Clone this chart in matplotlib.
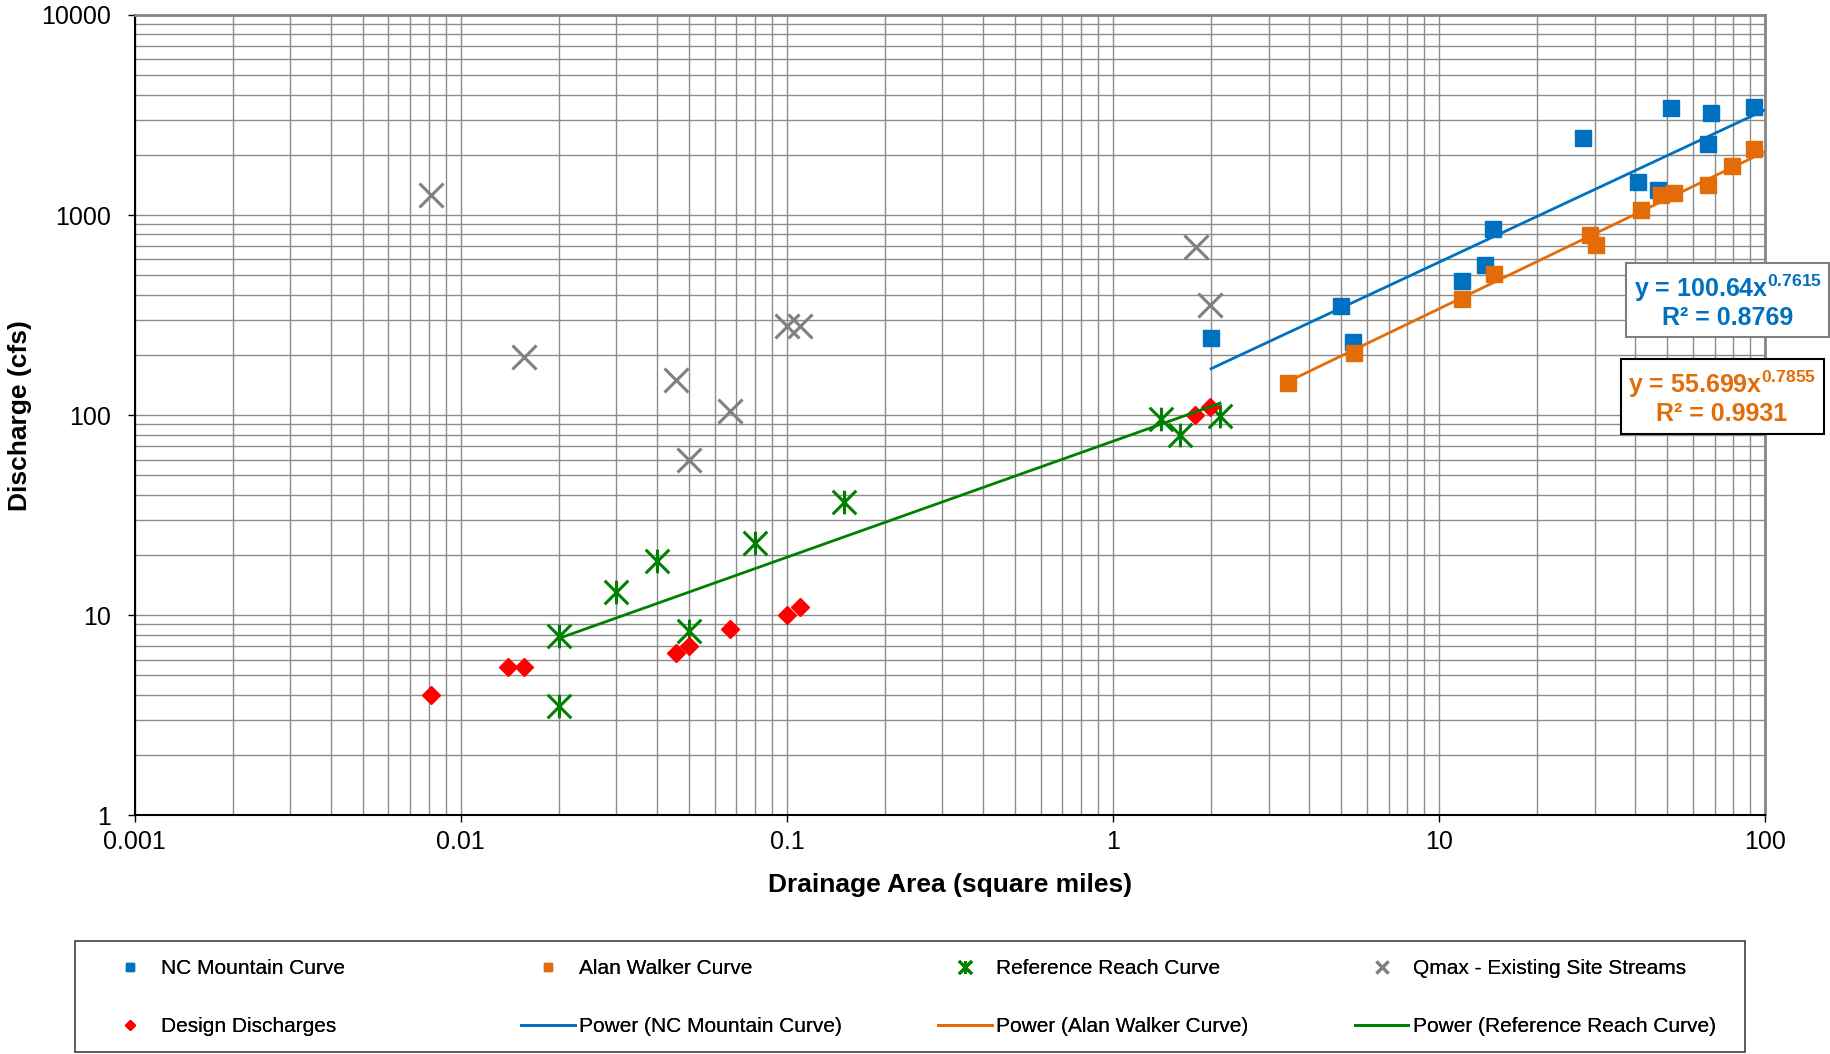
import numpy as np
import matplotlib
matplotlib.use("Agg")
import matplotlib.pyplot as plt
from matplotlib.path import Path
from matplotlib.patches import Rectangle
from matplotlib.ticker import LogLocator, NullFormatter

plt.rcParams['font.family'] = ['Liberation Sans', 'DejaVu Sans']
plt.rcParams['mathtext.fontset'] = 'custom'
plt.rcParams['mathtext.rm'] = 'Liberation Sans'
plt.rcParams['mathtext.bf'] = 'Liberation Sans:bold'

# --- data (drainage area in sq mi, discharge in cfs) ---
nc_area = [2.0, 5.0, 5.46, 11.8, 13.8, 14.6, 27.6, 40.7, 47.1, 51.4, 66.7, 68.2, 92.3]
nc_q = [242, 351, 233, 470, 560, 855, 2434, 1460, 1330, 3436, 2255, 3222, 3476]

aw_area = [3.45, 5.5, 11.8, 14.7, 29.0, 30.3, 41.5, 48.0, 52.5, 66.7, 79.0, 92.3]
aw_q = [145, 204, 381, 509, 796, 712, 1055, 1262, 1290, 1413, 1763, 2130]

rr_area = [0.02, 0.02, 0.03, 0.04, 0.05, 0.08, 0.15, 1.40, 1.60, 2.13]
rr_q = [7.9, 3.5, 13.0, 18.7, 8.3, 22.9, 37.0, 96.0, 80.0, 99.0]

qm_area = [0.0081, 0.0156, 0.0456, 0.05, 0.067, 0.10, 0.11, 1.80, 1.99]
qm_q = [1260, 195, 150, 60, 105, 280, 280, 695, 355]

dd_area = [0.0081, 0.014, 0.0156, 0.0456, 0.05, 0.067, 0.10, 0.11, 1.79, 1.98]
dd_q = [4.0, 5.5, 5.5, 6.45, 7.0, 8.5, 10.0, 11.0, 100, 110]

# power trendline coefficients shown on the chart
nc_coef = (100.64, 0.7615)
aw_coef = (55.699, 0.7855)
nc_r2 = 0.8769
aw_r2 = 0.9931

x_ticks = [0.001, 0.01, 0.1, 1, 10, 100]
x_labels = ['0.001', '0.01', '0.1', '1', '10', '100']
y_ticks = [1, 10, 100, 1000, 10000]
y_labels = ['1', '10', '100', '1000', '10000']

BLUE = '#0070C0'
ORANGE = '#E36C09'
GREEN = '#008000'
RED = '#FF0000'
GRAY = '#808080'

# Excel style "star" marker: an X with a vertical bar through it
star = Path([(-1, -1), (1, 1), (-1, 1), (1, -1), (0, -1), (0, 1)],
            [Path.MOVETO, Path.LINETO, Path.MOVETO, Path.LINETO, Path.MOVETO, Path.LINETO])

fig = plt.figure(figsize=(18.31, 10.54), dpi=100)
ax = fig.add_axes([0.0736, 0.2265, 0.8904, 0.7593])
ax.set_xscale('log')
ax.set_yscale('log')

h_nc, = ax.plot(nc_area, nc_q, ls='none', marker='s', ms=11.5, color=BLUE, mec=BLUE,
                label='NC Mountain Curve', zorder=3)
h_aw, = ax.plot(aw_area, aw_q, ls='none', marker='s', ms=11.5, color=ORANGE, mec=ORANGE,
                label='Alan Walker Curve', zorder=3)
h_rr, = ax.plot(rr_area, rr_q, ls='none', marker=star, ms=17, mew=2.2, color=GREEN,
                mfc='none', label='Reference Reach Curve', zorder=3)
h_qm, = ax.plot(qm_area, qm_q, ls='none', marker='x', ms=17, mew=2.2, color=GRAY,
                label='Qmax - Existing Site Streams', zorder=3)
h_dd, = ax.plot(dd_area, dd_q, ls='none', marker='D', ms=9, color=RED, mec=RED,
                label='Design Discharges', zorder=3)

# trendlines
xs = np.logspace(np.log10(min(nc_area)), 2, 50)
h_tnc, = ax.plot(xs, nc_coef[0] * xs ** nc_coef[1], color=BLUE, lw=2,
                 label='Power (NC Mountain Curve)', zorder=4)
xs = np.logspace(np.log10(min(aw_area)), 2, 50)
h_taw, = ax.plot(xs, aw_coef[0] * xs ** aw_coef[1], color=ORANGE, lw=2,
                 label='Power (Alan Walker Curve)', zorder=4)
b, a = np.polyfit(np.log10(rr_area), np.log10(rr_q), 1)
xs = np.logspace(np.log10(min(rr_area)), np.log10(max(rr_area)), 50)
h_trr, = ax.plot(xs, 10 ** a * xs ** b, color=GREEN, lw=2,
                 label='Power (Reference Reach Curve)', zorder=4)

ax.set_xlim(0.001, 100)
ax.set_ylim(1, 10000)
ax.set_xticks(x_ticks)
ax.set_xticklabels(x_labels)
ax.set_yticks(y_ticks)
ax.set_yticklabels(y_labels)
ax.xaxis.set_minor_locator(LogLocator(base=10, subs=np.arange(2, 10), numticks=20))
ax.yaxis.set_minor_locator(LogLocator(base=10, subs=np.arange(2, 10), numticks=20))
ax.xaxis.set_minor_formatter(NullFormatter())
ax.yaxis.set_minor_formatter(NullFormatter())
ax.tick_params(which='major', length=5, width=1, labelsize=18)
ax.tick_params(axis='x', which='major', pad=5.5)
ax.tick_params(axis='y', which='major', pad=12)
ax.tick_params(which='minor', length=0)
ax.grid(which='both', color='#8c8c8c', lw=1.0)
ax.set_axisbelow(True)

for s in ['left', 'bottom']:
    ax.spines[s].set_color('black')
    ax.spines[s].set_linewidth(1.5)
for s in ['top', 'right']:
    ax.spines[s].set_color('#868686')
    ax.spines[s].set_linewidth(2)

ax.set_xlabel('Drainage Area (square miles)', fontsize=19, fontweight='bold', labelpad=14)
ax.set_ylabel('Discharge (cfs)', fontsize=19, fontweight='bold', labelpad=7)

# trendline equation boxes
fig.text(0.9435, 0.7145,
         'y = %.2fx$^{\\mathbf{%.4f}}$\nR² = %.4f' % (nc_coef[0], nc_coef[1], nc_r2),
         color=BLUE, fontsize=18, fontweight='bold', ha='center', va='center',
         linespacing=1.1,
         bbox=dict(boxstyle='square,pad=0.3', fc='white', ec='#7f7f7f', lw=1.5))
fig.text(0.9405, 0.6229,
         'y = %.3fx$^{\\mathbf{%.4f}}$\nR² = %.4f' % (aw_coef[0], aw_coef[1], aw_r2),
         color=ORANGE, fontsize=18, fontweight='bold', ha='center', va='center',
         linespacing=1.1,
         bbox=dict(boxstyle='square,pad=0.3', fc='white', ec='black', lw=1.5))

# legend: 4 equal-width columns, 2 rows, inside one frame
fig.patches.append(Rectangle((75 / 1831, 1 - 1052 / 1054), 1670 / 1831, 111 / 1054,
                             transform=fig.transFigure, fill=False, ec='#404040', lw=1.2))
columns = [[h_nc, h_dd], [h_aw, h_tnc], [h_rr, h_taw], [h_qm, h_trr]]
col_x = [0.0563, 0.2846, 0.5123, 0.7400]
for hs, cx in zip(columns, col_x):
    leg = fig.legend(handles=hs, loc='center left', bbox_to_anchor=(cx, 0.0535),
                     frameon=False, fontsize=15, markerscale=0.55, handlelength=2.57,
                     handletextpad=0.22, labelspacing=1.85, borderpad=0, borderaxespad=0)
    fig.add_artist(leg)

fig.savefig('out.png', dpi=100)
